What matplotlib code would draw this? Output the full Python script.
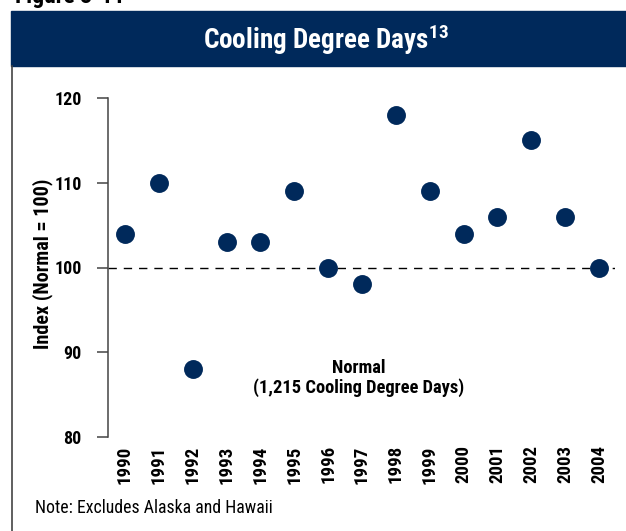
import matplotlib
matplotlib.use("Agg")
import matplotlib.pyplot as plt
from matplotlib.patches import Rectangle
from matplotlib.lines import Line2D

plt.rcParams["font.family"] = ["Roboto Condensed", "DejaVu Sans"]
plt.rcParams["mathtext.fontset"] = "custom"
plt.rcParams["mathtext.rm"] = "Roboto Condensed:bold"

NAVY = "#00295b"
AXIS_GREY = "#444444"

years = [1990, 1991, 1992, 1993, 1994, 1995, 1996, 1997,
         1998, 1999, 2000, 2001, 2002, 2003, 2004]
index_vals = [104, 110, 88, 103, 103, 109, 100, 98,
              118, 109, 104, 106, 115, 106, 100]
y_ticks = [80, 90, 100, 110, 120]
normal = 100

W, H = 626, 531
fig = plt.figure(figsize=(W / 100, H / 100), dpi=100)

# header band and the left frame line below it
fig.patches.append(Rectangle((11 / W, 1 - 66 / H), 1, 55 / H,
                             transform=fig.transFigure, color=NAVY, zorder=0))
fig.lines.append(Line2D([12 / W, 12 / W], [0, 1 - 66 / H],
                        transform=fig.transFigure, color=AXIS_GREY, lw=1.2))
fig.text(15 / W, 1 - 3 / H, "Figure 3-11", fontsize=17, fontweight="bold",
         va="baseline", ha="left")
fig.text(326 / W, 1 - 40 / H, r"Cooling Degree Days$^{\mathrm{13}}$",
         color="white", fontsize=19.5, fontweight="bold",
         ha="center", va="center")

ax = fig.add_axes([108 / W, 1 - 437 / H, 507 / W, 339 / H])
ax.scatter(years, index_vals, s=185, color=NAVY, zorder=3, linewidths=0)
ax.axhline(normal, color="black", lw=1, ls=(0, (6, 5)), zorder=1)

ax.set_xlim(1989.5, 2004.47)
ax.set_ylim(80, 120)
ax.set_yticks(y_ticks)
ax.set_yticklabels([str(v) for v in y_ticks], fontsize=13, fontweight="bold")
ax.set_xticks(years)
ax.set_xticklabels([str(y) for y in years], rotation=90, fontsize=13.5,
                   fontweight="bold")
ax.tick_params(axis="x", length=0, pad=6)
ax.tick_params(axis="y", length=8, width=1.1, color=AXIS_GREY, pad=11)
for side in ["top", "right", "bottom"]:
    ax.spines[side].set_visible(False)
ax.spines["left"].set_color(AXIS_GREY)
ax.spines["left"].set_linewidth(1.1)
ax.set_ylabel("Index (Normal = 100)", fontsize=14.5, fontweight="bold")
ax.yaxis.set_label_coords(-0.108, 0.51)

ax.text(1996.91, 86.96, "Normal\n(1,215 Cooling Degree Days)", ha="center",
        va="center", fontsize=13.3, fontweight="bold", linespacing=1.05)

fig.text(35 / W, 1 - 508 / H, "Note: Excludes Alaska and Hawaii",
         fontsize=12.8, ha="left", va="center")

fig.savefig("out.png", dpi=100)
